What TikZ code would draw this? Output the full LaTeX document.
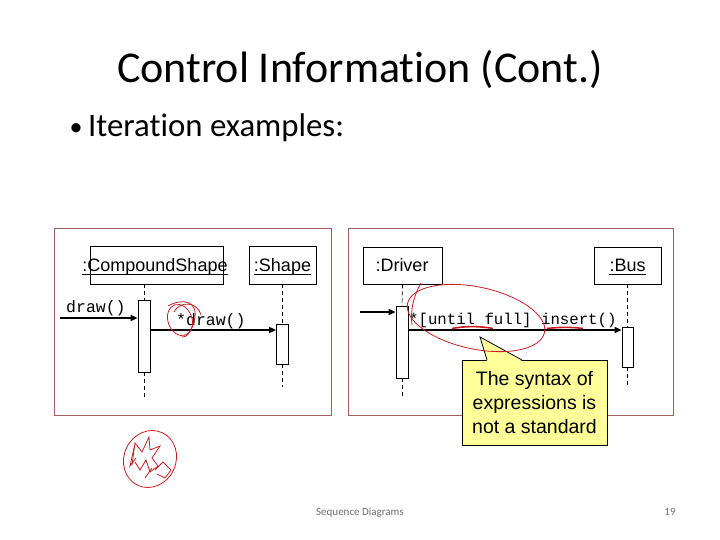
\documentclass[tikz,border=0pt]{standalone}
\usepackage{fontspec}
\setmainfont{Carlito}[Ligatures=NoCommon]
\newfontfamily\arialf{Liberation Sans}
\newfontfamily\courf{Liberation Mono}
\usetikzlibrary{arrows.meta}
\definecolor{framecol}{RGB}{165,95,95}
\definecolor{inkred}{RGB}{200,30,35}
\definecolor{callyellow}{RGB}{255,255,153}
\definecolor{footgray}{RGB}{110,110,110}
\tikzset{
  panel/.style={draw=framecol, line width=0.9bp},
  objbox/.style={draw=black, line width=0.8bp, fill=white, inner sep=0pt},
  objlabel/.style={font=\arialf\fontsize{18bp}{20bp}\selectfont, inner sep=0pt, anchor=base},
  uline/.style={draw=black, line width=1.5bp},
  actbox/.style={draw=black, line width=0.8bp, fill=white, inner sep=0pt, minimum width=12bp},
  lifeline/.style={draw=black, line width=0.7bp, dash pattern=on 4bp off 3bp},
  msg/.style={draw=black, line width=2bp, -{Triangle[length=7bp,width=6bp]}},
  msgtext/.style={font=\courf\fontsize{16.5bp}{18bp}\selectfont, inner sep=0pt, anchor=base west},
  ink/.style={draw=inkred, line width=0.8bp},
}
\begin{document}
\begin{tikzpicture}[x=1bp,y=-1bp]
\useasboundingbox (0,0) rectangle (720,540);
% title and bullet
\node[font=\fontsize{44bp}{50bp}\selectfont, anchor=base] (title) at (360,83) {Control Information (Cont.)};
\node[font=\fontsize{26bp}{30bp}\selectfont, anchor=base, inner sep=0pt] (dot) at (76,136) {\textbullet};
\node[font=\fontsize{32.8bp}{36bp}\selectfont, anchor=base west, inner sep=0pt] (bullet) at (88,137) {Iteration examples:};

% ---------- left panel ----------
\draw[panel] (54,228) rectangle (331,415);
\node[objbox, minimum width=133bp, minimum height=38bp] (csbox) at (156.5,265) {};
\node[objlabel] (cslbl) at (155,271.5) {:CompoundShape};
\draw[uline] ([yshift=-3bp]cslbl.base west) -- ([yshift=-3bp]cslbl.base east);
\node[objbox, minimum width=67bp, minimum height=38bp] (shbox) at (282.5,265) {};
\node[objlabel] (shlbl) at (282.5,271.5) {:Shape};
\draw[uline] ([yshift=-3bp]shlbl.base west) -- ([yshift=-3bp]shlbl.base east);
\node[actbox, minimum height=72bp] (act1) at (144,336) {};
\node[actbox, minimum height=40bp] (act2) at (282.5,344) {};
\coordinate (end1) at (144,398);
\coordinate (end2) at (282.5,387);
\draw[lifeline] (csbox.south -| act1) -- (act1.north);
\draw[lifeline] (act1.south) -- (end1);
\draw[lifeline] (shbox.south) -- (act2.north);
\draw[lifeline] (act2.south) -- (end2);
\coordinate (in1) at (60,318);
\draw[msg] (in1) -- (in1 -| act1.west);
\node[msgtext] (m1) at (66,312) {draw()};
\draw[msg] (act1.east |- 0,330) -- (act2.west |- 0,330);
\node[msgtext] (m2) at (176,325) {*draw()};

% ---------- right panel ----------
\draw[panel] (348,228) rectangle (673,415);
\node[objbox, minimum width=79bp, minimum height=37bp] (drbox) at (402.5,265.5) {};
\node[objlabel] (drlbl) at (402,271.5) {:Driver};
\node[objbox, minimum width=67bp, minimum height=37bp] (busbox) at (627.5,265.5) {};
\node[objlabel] (buslbl) at (627.5,271.5) {:Bus};
\draw[uline] ([yshift=-3bp]buslbl.base west) -- ([yshift=-3bp]buslbl.base east);
\node[actbox, minimum height=72bp] (act3) at (402,342) {};
\node[actbox, minimum height=40bp, minimum width=11bp] (act4) at (627.5,347) {};
\coordinate (end3) at (402,398);
\coordinate (end4) at (627.5,387);
\draw[lifeline] (drbox.south) -- (act3.north);
\draw[lifeline] (act3.south) -- (end3);
\draw[lifeline] (busbox.south) -- (act4.north);
\draw[lifeline] (act4.south) -- (end4);
\coordinate (in3) at (360,312);
\draw[msg] (in3) -- (in3 -| act3.west);
\draw[msg] (act3.east |- 0,330) -- (act4.west |- 0,330);
\node[msgtext, font=\courf\fontsize{15.7bp}{18bp}\selectfont] (m3) at (409,324) {*[until full] insert()};

% ---------- callout ----------
\node[draw=black, line width=0.8bp, fill=callyellow, minimum width=145bp, minimum height=85bp, inner sep=0pt,
      align=center, font=\arialf\fontsize{19.5bp}{24bp}\selectfont] (call) at (534.5,402.5)
      {The syntax of\\expressions is\\not a standard};
\coordinate (tip) at (480,337);
\fill[callyellow] (487,361) -- (tip) -- (522,361) -- cycle;
\draw[black, line width=0.8bp] (487,360) -- (tip) -- (522,360);

% ---------- red ink annotations ----------
\draw[ink] (476,318) ellipse [x radius=70, y radius=31, rotate=-12];
\draw[ink] (421,283) .. controls (414,295) and (410,310) .. (412,325);
\draw[inkred, line width=1.6bp] (452,328.5) .. controls (465,326) and (480,326) .. (493,328.5);
\draw[inkred, line width=1.6bp] (547,328.5) .. controls (560,327) and (572,327) .. (583,328.5);
% scribble around *draw()
\draw[ink] (180,320) ellipse [x radius=12, y radius=16, rotate=20];
\draw[ink] (168,306) .. controls (182,298) and (200,300) .. (194,322) .. controls (191,332) and (186,338) .. (182,337);
\draw[ink] (174,312) .. controls (180,300) and (198,302) .. (201,315);
% scribble bottom-left
\draw[ink] (150,459) ellipse [x radius=26, y radius=29, rotate=-25];
\draw[ink] (132,465) -- (135,443) -- (142,452) -- (149,437) -- (150,450) -- (160,446) -- (152,458) -- (158,466) -- (150,472) -- (146,460) -- (140,470) -- (135,462);
\draw[ink] (134,448) -- (130,466) -- (136,458);
\draw[ink] (155,470) -- (163,462) -- (171,470) -- (165,478) -- (157,474);
\draw[ink] (145,478) -- (152,468);

% ---------- footer ----------
\node[font=\fontsize{11bp}{13bp}\selectfont, text=footgray, anchor=base] (foot) at (360,515) {Sequence Diagrams};
\node[font=\fontsize{11bp}{13bp}\selectfont, text=footgray, anchor=base] (pg) at (670,515) {19};
\end{tikzpicture}
\end{document}
